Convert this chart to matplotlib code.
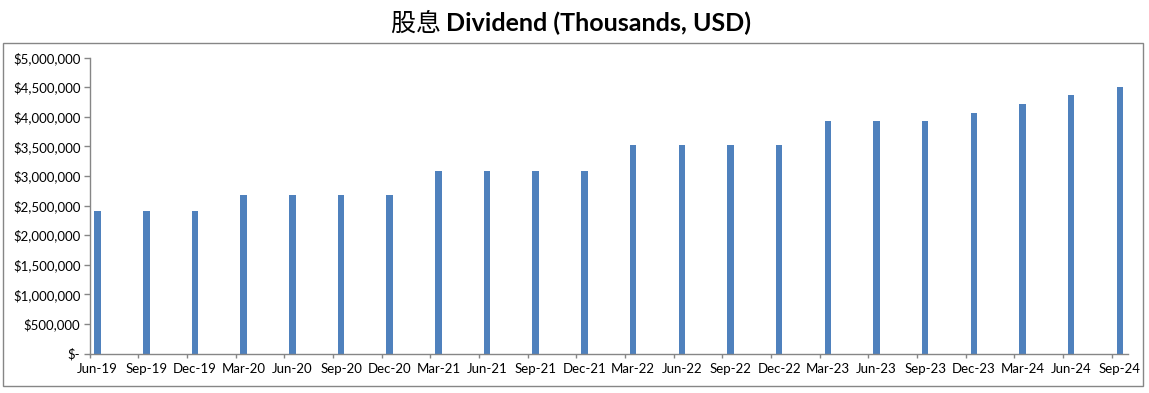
import numpy as np
import matplotlib
matplotlib.use("Agg")
from matplotlib import pyplot as plt
from matplotlib.patches import Rectangle
from matplotlib.ticker import FuncFormatter, FixedLocator

# quarterly dividend
quarters = ['Jun-19', 'Sep-19', 'Dec-19', 'Mar-20', 'Jun-20', 'Sep-20', 'Dec-20',
            'Mar-21', 'Jun-21', 'Sep-21', 'Dec-21', 'Mar-22', 'Jun-22', 'Sep-22',
            'Dec-22', 'Mar-23', 'Jun-23', 'Sep-23', 'Dec-23', 'Mar-24', 'Jun-24',
            'Sep-24']
dividend = [2400000, 2400000, 2400000, 2680000, 2680000, 2680000, 2680000,
            3080000, 3080000, 3080000, 3080000, 3520000, 3520000, 3520000,
            3520000, 3920000, 3920000, 3920000, 4060000, 4210000, 4360000,
            4510000]
y_ticks = [0, 500000, 1000000, 1500000, 2000000, 2500000, 3000000,
           3500000, 4000000, 4500000, 5000000]

BAR_COLOR = '#4F81BD'
AXIS_COLOR = '#868686'
LATIN = ['Lato', 'DejaVu Sans']


def money(v, pos=None):
  if v == 0:
    return '$-'
  return '${:,.0f}'.format(v)


def plot_dividend():
  '''
  Excel style column chart on a monthly date axis
  '''
  W, H = 1149, 393
  fig = plt.figure(figsize=(W / 100, H / 100), dpi=100)

  # outer chart border
  fig.patches.append(Rectangle((3 / W, 1 - 386 / H), 1140 / W, 343 / H,
                               transform=fig.transFigure, fill=False,
                               edgecolor=AXIS_COLOR, linewidth=1.0))

  ax = fig.add_axes([89.5 / W, 1 - 353.5 / H, (1128 - 89.5) / W, (353.5 - 57.5) / H])

  # each quarter is 3 months, bar sits in the middle of its month
  n = len(quarters)
  months = np.arange(n) * 3
  ax.bar(months + 0.5, dividend, width=0.4, color=BAR_COLOR, zorder=2)

  ax.set_xlim(0, n * 3 - 2)
  ax.set_ylim(0, 5000000)

  ax.xaxis.set_major_locator(FixedLocator(months))
  ax.xaxis.set_minor_locator(FixedLocator(months + 0.5))
  ax.set_xticklabels([], minor=False)
  ax.set_xticklabels(quarters, minor=True)
  ax.tick_params(axis='x', which='major', length=3, width=1, color=AXIS_COLOR, direction='out')
  ax.tick_params(axis='x', which='minor', length=0, pad=6.5, labelsize=9.5)

  ax.set_yticks(y_ticks)
  ax.yaxis.set_major_formatter(FuncFormatter(money))
  ax.tick_params(axis='y', length=4, width=1, color=AXIS_COLOR, direction='out',
                 pad=2.5, labelsize=9.5)

  for lab in ax.get_xticklabels(minor=True) + ax.get_yticklabels():
    lab.set_fontfamily(LATIN)
    lab.set_color('black')

  for side in ['top', 'right']:
    ax.spines[side].set_visible(False)
  for side in ['left', 'bottom']:
    ax.spines[side].set_color(AXIS_COLOR)
    ax.spines[side].set_linewidth(1.0)

  # title: chinese part regular, english part bold
  t1 = fig.text(0, 0, '股息 ', fontsize=18, family=['Noto Sans CJK SC', 'DejaVu Sans'],
                va='baseline', ha='left')
  t2 = fig.text(0, 0, 'Dividend (Thousands, USD)', fontsize=18, fontweight='bold',
                family=LATIN, va='baseline', ha='left')
  renderer = fig.canvas.get_renderer()
  w1 = t1.get_window_extent(renderer).width
  w2 = t2.get_window_extent(renderer).width
  x0 = 571 - (w1 + w2) / 2
  base = 1 - 31 / H
  t1.set_position((x0 / W, base))
  t2.set_position(((x0 + w1) / W, base))

  fig.savefig('out.png', dpi=100)


if __name__ == "__main__":
  plot_dividend()
